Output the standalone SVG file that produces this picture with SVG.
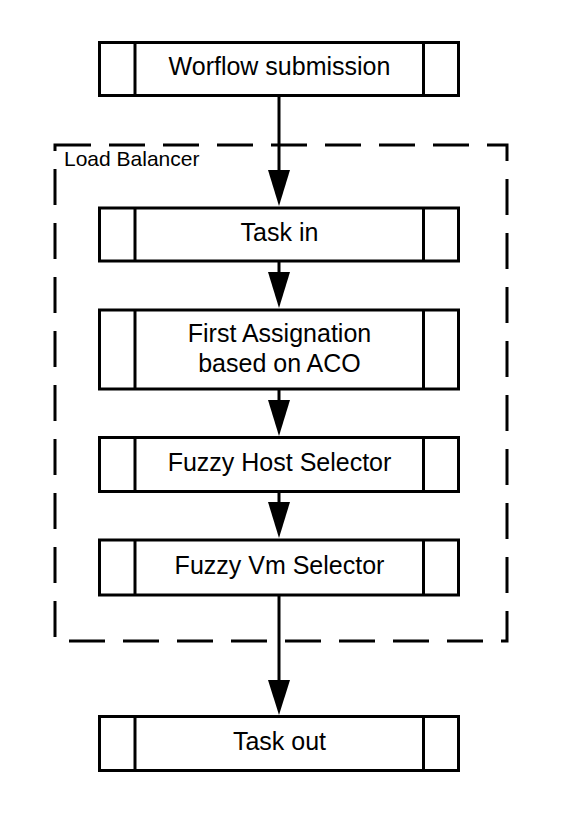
<svg xmlns="http://www.w3.org/2000/svg" width="570" height="814" viewBox="0 0 570 814">
<style>
.box{fill:#fff;stroke:#000;stroke-width:3}
.div{stroke:#000;stroke-width:3}
.t{font-family:"Liberation Sans",Arial,sans-serif;font-size:25px;fill:#000;text-anchor:middle}
.lb{font-family:"Liberation Sans",Arial,sans-serif;font-size:21px;fill:#000}
.head{fill:#000}
</style>
<rect id="lb" x="55" y="145" width="452" height="496" fill="none" stroke="#000" stroke-width="3" stroke-dasharray="36 18"/>
<text class="lb" x="64" y="166">Load Balancer</text>
<g id="connectors">
<line class="div" x1="279" y1="96" x2="279" y2="172"/>
<polygon class="head" points="268,170 290,170 279,206"/>
<line class="div" x1="279" y1="261" x2="279" y2="275"/>
<polygon class="head" points="268,272 290,272 279,308"/>
<line class="div" x1="279" y1="389" x2="279" y2="403"/>
<polygon class="head" points="268,400 290,400 279,436"/>
<line class="div" x1="279" y1="491" x2="279" y2="505"/>
<polygon class="head" points="268,502 290,502 279,538"/>
<line class="div" x1="279" y1="595" x2="279" y2="684"/>
<polygon class="head" points="268,680 290,680 279,715"/>
</g>
<g id="n1">
<rect class="box" x="99.5" y="42.5" width="359" height="53"/>
<line class="div" x1="135" y1="42.5" x2="135" y2="95.5"/>
<line class="div" x1="423.5" y1="42.5" x2="423.5" y2="95.5"/>
<text class="t" x="279.5" y="75">Worflow submission</text>
</g>
<g id="n2">
<rect class="box" x="99.5" y="208" width="359" height="53"/>
<line class="div" x1="135" y1="208" x2="135" y2="261"/>
<line class="div" x1="423.5" y1="208" x2="423.5" y2="261"/>
<text class="t" x="279.5" y="241">Task in</text>
</g>
<g id="n3">
<rect class="box" x="99.5" y="310" width="359" height="79"/>
<line class="div" x1="135" y1="310" x2="135" y2="389"/>
<line class="div" x1="423.5" y1="310" x2="423.5" y2="389"/>
<text class="t" x="279.5" y="341.5">First Assignation</text>
<text class="t" x="279.5" y="371.5">based on ACO</text>
</g>
<g id="n4">
<rect class="box" x="99.5" y="437.5" width="359" height="54"/>
<line class="div" x1="135" y1="437.5" x2="135" y2="491.5"/>
<line class="div" x1="423.5" y1="437.5" x2="423.5" y2="491.5"/>
<text class="t" x="279.5" y="471">Fuzzy Host Selector</text>
</g>
<g id="n5">
<rect class="box" x="99.5" y="540" width="359" height="55"/>
<line class="div" x1="135" y1="540" x2="135" y2="595"/>
<line class="div" x1="423.5" y1="540" x2="423.5" y2="595"/>
<text class="t" x="279.5" y="574">Fuzzy Vm Selector</text>
</g>
<g id="n6">
<rect class="box" x="99.5" y="716.5" width="359" height="54"/>
<line class="div" x1="135" y1="716.5" x2="135" y2="770.5"/>
<line class="div" x1="423.5" y1="716.5" x2="423.5" y2="770.5"/>
<text class="t" x="279.5" y="750">Task out</text>
</g>
</svg>
